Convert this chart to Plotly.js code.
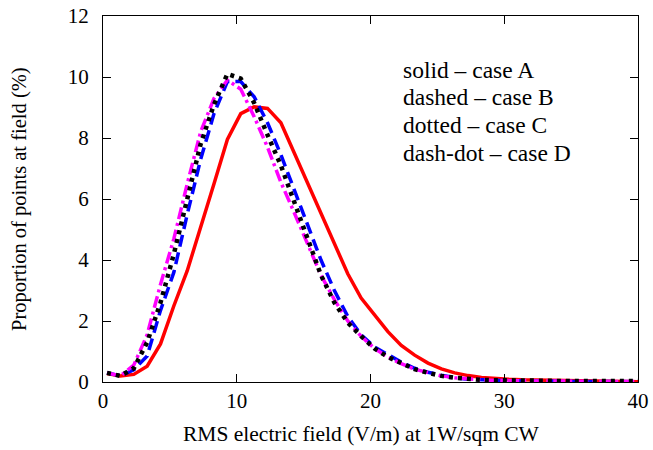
<!DOCTYPE html>
<html>
<head>
<meta charset="utf-8">
<script src="https://cdn.plot.ly/plotly-3.0.1.min.js"></script>
<style>html,body{margin:0;padding:0;background:#fff;}#chart{width:653px;height:450px;}</style>
</head>
<body>
<div id="chart"></div>
<script>
const field = [0.3,1.3,2.3,3.3,4.3,5.3,6.3,7.3,8.3,9.3,10.3,11.3,12.3,13.3,14.3,15.3,16.3,17.3,18.3,19.3,20.3,21.3,22.3,23.3,24.3,25.3,26.3,27.3,28.3,29.3,30.3,31.3,32.3,33.3,34.3,35.3,36.3,37.3,38.3,39.3,40];
const caseA = [0.28,0.2,0.25,0.52,1.25,2.5,3.65,5.05,6.5,7.95,8.8,9.02,8.97,8.5,7.5,6.5,5.5,4.5,3.55,2.75,2.2,1.65,1.2,0.88,0.62,0.43,0.3,0.21,0.15,0.11,0.09,0.07,0.06,0.05,0.04,0.03,0.03,0.02,0.02,0.01,0.01];
const caseB = [0.3,0.2,0.4,0.85,2.35,3.6,5.5,7.3,8.8,9.85,9.85,9.35,8.5,7.45,6.3,5.15,4.0,3.0,2.15,1.55,1.15,0.9,0.65,0.45,0.32,0.22,0.14,0.09,0.07,0.05,0.04,0.04,0.03,0.03,0.02,0.02,0.02,0.02,0.01,0.01,0.01];
const caseC = [0.3,0.2,0.45,1.3,2.6,4.2,6.0,7.8,9.1,10.1,9.95,9.15,8.1,7.1,5.9,4.7,3.5,2.6,1.95,1.5,1.1,0.82,0.6,0.42,0.3,0.2,0.14,0.1,0.07,0.06,0.05,0.05,0.04,0.04,0.04,0.03,0.03,0.03,0.03,0.03,0.03];
const caseD = [0.3,0.2,0.55,1.55,3.2,4.7,6.5,8.2,9.3,9.9,9.6,8.7,7.7,6.55,5.55,4.5,3.5,2.7,2.0,1.5,1.1,0.82,0.6,0.42,0.3,0.2,0.14,0.1,0.07,0.05,0.04,0.04,0.03,0.03,0.03,0.02,0.02,0.02,0.02,0.02,0.02];
const xTicks = [0,10,20,30,40];
const yTicks = [0,2,4,6,8,10,12];
const xTitle = 'RMS electric field (V/m) at 1W/sqm CW';
const yTitle = 'Proportion of points at field (%)';
const labels = ['solid \u2013 case A','dashed \u2013 case B','dotted \u2013 case C','dash-dot \u2013 case D'];

const traces = [
  {x: field, y: caseA, mode:'lines', line:{color:'#ff0000', width:3.5}},
  {x: field, y: caseB, mode:'lines', line:{color:'#0000ff', width:3.5, dash:'12px,6px'}},
  {x: field, y: caseD, mode:'lines', line:{color:'#ff00ff', width:3.5, dash:'12px,4px,3px,4px'}},
  {x: field, y: caseC, mode:'lines', line:{color:'#000000', width:4.5, dash:'4px,5px'}}
];
const fam = 'Liberation Serif';
const f = (s) => ({family: fam, size: s, color: '#000'});
const W = 535, H = 366;
const annotations = labels.map((t,i)=>({text:t, xref:'paper', yref:'paper', x:(401-103)/W, xanchor:'left',
    y:(382-(70+i*27.5))/H, yanchor:'middle', showarrow:false, font:f(23.5)}));
annotations.push({text:xTitle, xref:'paper', yref:'paper', x:(361-103)/W, xanchor:'center',
    y:(382-434)/H, yanchor:'middle', showarrow:false, font:f(21.5)});
annotations.push({text:yTitle, xref:'paper', yref:'paper', x:(19-103)/W, xanchor:'center',
    y:(382-199)/H, yanchor:'middle', showarrow:false, textangle:-90, font:f(20.5)});
const layout = {
  width:653, height:450,
  margin:{l:103, r:15, t:16, b:68},
  showlegend:false,
  paper_bgcolor:'#fff', plot_bgcolor:'#fff',
  font: f(21),
  xaxis:{range:[0,40], tickvals:xTicks, ticks:'inside', ticklen:8, tickcolor:'#000',
    showline:true, linecolor:'#000', linewidth:1, mirror:'ticks', showgrid:false, zeroline:false,
    tickfont:f(21)},
  yaxis:{range:[0,12], tickvals:yTicks, ticks:'inside', ticklen:8, tickcolor:'#000',
    showline:true, linecolor:'#000', linewidth:1, mirror:'ticks', showgrid:false, zeroline:false,
    tickfont:f(21), ticklabelstandoff:9},
  annotations: annotations
};
Plotly.newPlot('chart', traces, layout, {staticPlot:true});
</script>
</body>
</html>
